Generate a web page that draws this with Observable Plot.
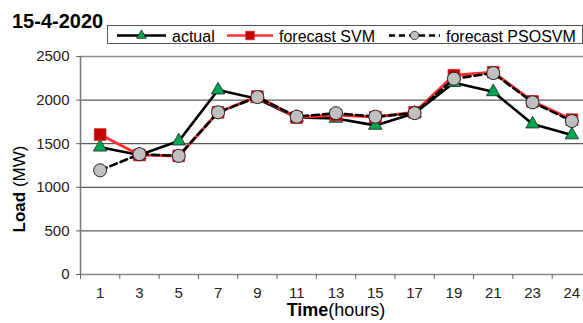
<!DOCTYPE html>
<html><head><meta charset="utf-8">
<script src="https://cdn.jsdelivr.net/npm/d3@7"></script>
<script src="https://cdn.jsdelivr.net/npm/@observablehq/plot@0.6"></script>
<style>
html,body{margin:0;padding:0;background:#fff;overflow:hidden;}
#wrap{position:relative;width:583px;height:323px;font-family:"Liberation Sans",Arial,sans-serif;overflow:hidden;}
#wrap > svg.plotsvg{position:absolute;left:0;top:0;}
#title{position:absolute;left:12px;top:11px;font-size:20px;font-weight:bold;line-height:1;color:#000;}
#wrap > svg#legend{position:absolute;left:107px;top:25px;}
</style></head><body>
<div id="wrap"><div id="title">15-4-2020</div></div>
<script>
const hours = ["1","3","5","7","9","11","13","15","17","19","21","23","24"];
const actual = [1460,1370,1530,2115,2015,1800,1790,1710,1850,2200,2095,1725,1600];
const svm    = [1605,1370,1360,1860,2040,1800,1830,1805,1860,2285,2320,1985,1775];
const psosvm = [1195,1380,1360,1860,2035,1810,1850,1810,1850,2245,2310,1975,1760];
const yTicks = [0,500,1000,1500,2000,2500];
const seriesNames = ["actual","forecast SVM","forecast PSOSVM"];

const rows = (vals) => vals.map((v,i)=>({i, v}));
const A = rows(actual), S = rows(svm), P = rows(psosvm);

const plot = Plot.plot({
  width:583, height:323, marginLeft:80, marginRight:0, marginTop:56, marginBottom:49,
  style:{fontFamily:"Liberation Sans, Arial, sans-serif", fontSize:"15px", color:"#222", background:"transparent", overflow:"visible"},
  x:{type:"linear", domain:[-0.5, hours.length-0.5], range:[80, 591]},
  y:{domain:[0,2500], range:[274,56]},
  marks:[
    Plot.ruleY(yTicks.filter(d=>d>0 && d<2500), {stroke:"#333", strokeWidth:1}),
    Plot.ruleY([2500], {stroke:"#888", strokeWidth:1.5}),
    Plot.ruleY([0], {stroke:"#888", strokeWidth:1.5}),
    Plot.ruleX([-0.5], {stroke:"#777", strokeWidth:1.5}),
    Plot.axisY({ticks:yTicks, tickSize:4, tickPadding:7, label:null, tickFormat:d=>String(d), stroke:"#666", fill:"#222"}),
    Plot.axisX({ticks:d3.range(hours.length), tickSize:0, tickPadding:13, tickFormat:i=>hours[i], label:null, fill:"#222"}),
    Plot.axisX({ticks:d3.range(hours.length+1).map(i=>i-0.5), tickSize:5, tickFormat:()=>"", label:null, stroke:"#666"}),
    Plot.line(A, {x:"i", y:"v", stroke:"#000", strokeWidth:2.6}),
    Plot.dot(A, {x:"i", y:"v", symbol:"triangle", r:5, fill:"#00a550", stroke:"#222", strokeWidth:0.8}),
    Plot.line(S, {x:"i", y:"v", stroke:"#ff3030", strokeWidth:3}),
    Plot.dot(S, {x:"i", y:"v", symbol:"square", r:6.6, fill:"#c00000", stroke:"#e02020", strokeWidth:0.8}),
    Plot.line(P, {x:"i", y:"v", stroke:"#000", strokeWidth:2.6, strokeDasharray:"7,4"}),
    Plot.dot(P, {x:"i", y:"v", r:6.5, fill:"#c0c0c0", stroke:"#222", strokeWidth:1})
  ]
});
plot.classList.add("plotsvg");
document.getElementById("wrap").prepend(plot);

const svg = d3.select(plot);
const ylab = svg.append("text")
  .attr("transform","translate(25,189) rotate(-90)")
  .attr("text-anchor","middle")
  .style("font-size","17px").style("font-family","Liberation Sans, Arial, sans-serif").attr("fill","#000");
ylab.append("tspan").attr("font-weight","bold").text("Load");
ylab.append("tspan").text(" (MW)");
const xlab = svg.append("text")
  .attr("x",336).attr("y",316).attr("text-anchor","middle")
  .style("font-size","18px").style("font-family","Liberation Sans, Arial, sans-serif").attr("fill","#000");
xlab.append("tspan").attr("font-weight","bold").text("Time");
xlab.append("tspan").text("(hours)");

// legend
const leg = d3.select("#wrap").append("svg").attr("id","legend").attr("width",477).attr("height",20);
leg.append("rect").attr("x",0.5).attr("y",0.5).attr("width",475).attr("height",18).attr("fill","#fff").attr("stroke","#555");
const legItems = [
  {name:seriesNames[0], x0:10, x1:59, stroke:"#000", dash:null, sym:d3.symbolTriangle, size:40, fill:"#00a550", sstroke:"#222"},
  {name:seriesNames[1], x0:120, x1:166, stroke:"#ff3030", dash:null, sym:d3.symbolSquare, size:72, fill:"#c00000", sstroke:"#e02020"},
  {name:seriesNames[2], x0:282, x1:333, stroke:"#000", dash:"6,4", sym:d3.symbolCircle, size:55, fill:"#c0c0c0", sstroke:"#222"}
];
const g = leg.selectAll("g").data(legItems).join("g");
g.append("line").attr("x1",d=>d.x0).attr("x2",d=>d.x1).attr("y1",10.5).attr("y2",10.5)
  .attr("stroke",d=>d.stroke).attr("stroke-width",2.5).attr("stroke-dasharray",d=>d.dash);
g.append("path").attr("d",d=>d3.symbol(d.sym,d.size)()).attr("transform",d=>`translate(${(d.x0+d.x1)/2},10.5)`)
  .attr("fill",d=>d.fill).attr("stroke",d=>d.sstroke).attr("stroke-width",0.8);
g.append("text").attr("x",d=>d.x1+6).attr("y",16.5).text(d=>d.name)
  .style("font-size","16px").style("font-family","Liberation Sans, Arial, sans-serif").attr("fill","#000");
</script>
</body></html>
